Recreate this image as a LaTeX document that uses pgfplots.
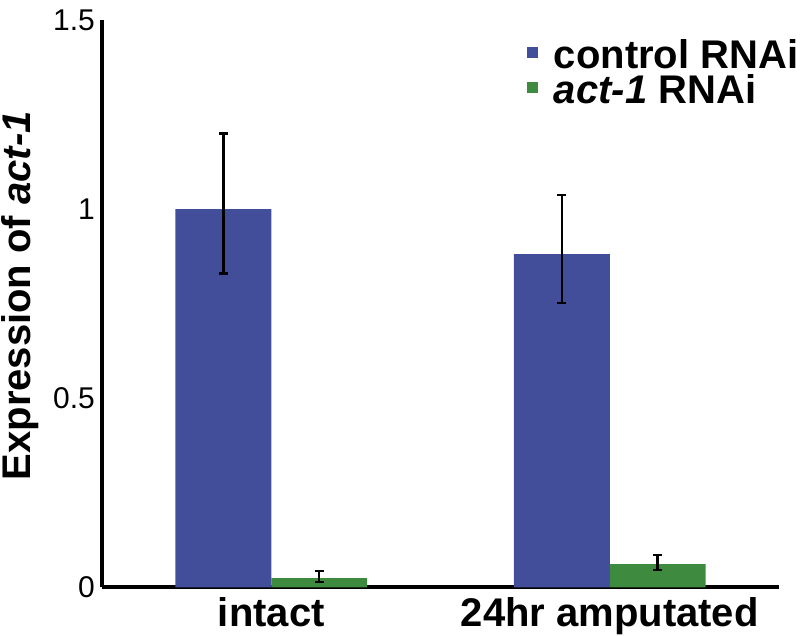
\documentclass[border=0pt]{standalone}
\usepackage{pgfplots}
\pgfplotsset{compat=1.18}
\usepackage{fontspec}
\setmainfont{Liberation Sans}
\definecolor{cblue}{RGB}{67,78,155}
\definecolor{cgreen}{RGB}{62,138,62}
\begin{document}
\begin{tikzpicture}
\begin{axis}[
  name=ax,
  scale only axis,
  width=338.5pt, height=283.75pt,
  xmin=0.5, xmax=2.5, ymin=0, ymax=1.5,
  axis x line*=bottom, axis y line*=left,
  axis line style={line width=2pt, -},
  xtick={1,2}, xticklabels={intact, 24hr amputated},
  ytick={0,0.5,1,1.5},
  major tick length=0pt,
  /pgf/number format/assume math mode=true,
  yticklabel style={font=\fontsize{15}{18}\selectfont},
  xticklabel style={font=\bfseries\fontsize{20}{24}\selectfont, anchor=base, yshift=-19.5pt},
  ylabel={Expression of \textit{act-1}},
  ylabel style={font=\bfseries\fontsize{20}{24}\selectfont, at={(axis description cs:-0.1049,0.514)}, anchor=base},
  legend style={at={(axis description cs:0.628,0.956)}, anchor=north west, draw=none, fill=none,
    inner sep=0pt, outer sep=0pt, row sep=0pt, column sep=8pt,
    nodes={inner sep=0pt, text height=12pt, text depth=5.5pt, font=\bfseries\fontsize{20}{24}\selectfont}},
  legend cell align=left,
  clip=false,
]
\addplot[ybar, bar width=0.283, bar shift=0pt, fill=cblue, draw=none, forget plot,
  error bars/.cd, y dir=both, y explicit,
  error bar style={line width=1.2pt, black},
  error mark options={rotate=90, mark size=2.25pt, line width=1.2pt, black}]
  coordinates {(0.8585,1.0) += (0,0.2) -= (0,0.17) (1.8585,0.881) += (0,0.156) -= (0,0.129)};
\addplot[ybar, bar width=0.283, bar shift=0pt, fill=cgreen, draw=none, forget plot,
  error bars/.cd, y dir=both, y explicit,
  error bar style={line width=1.2pt, black},
  error mark options={rotate=90, mark size=2.25pt, line width=1.2pt, black}]
  coordinates {(1.1415,0.025) += (0,0.019) -= (0,0.011) (2.1415,0.062) += (0,0.024) -= (0,0.016)};
\addlegendimage{legend image code/.code={\fill[cblue] (0pt,2.5pt) rectangle (5pt,7.5pt);}}
\addlegendentry{control RNAi}
\addlegendimage{legend image code/.code={\fill[cgreen] (0pt,2.5pt) rectangle (5pt,7.5pt);}}
\addlegendentry{\textit{act-1} RNAi}
\end{axis}
\pgfresetboundingbox
\path[use as bounding box] ([shift={(-51pt,-24.25pt)}]ax.south west) rectangle ([shift={(350pt,293.75pt)}]ax.south west);
\end{tikzpicture}
\end{document}
